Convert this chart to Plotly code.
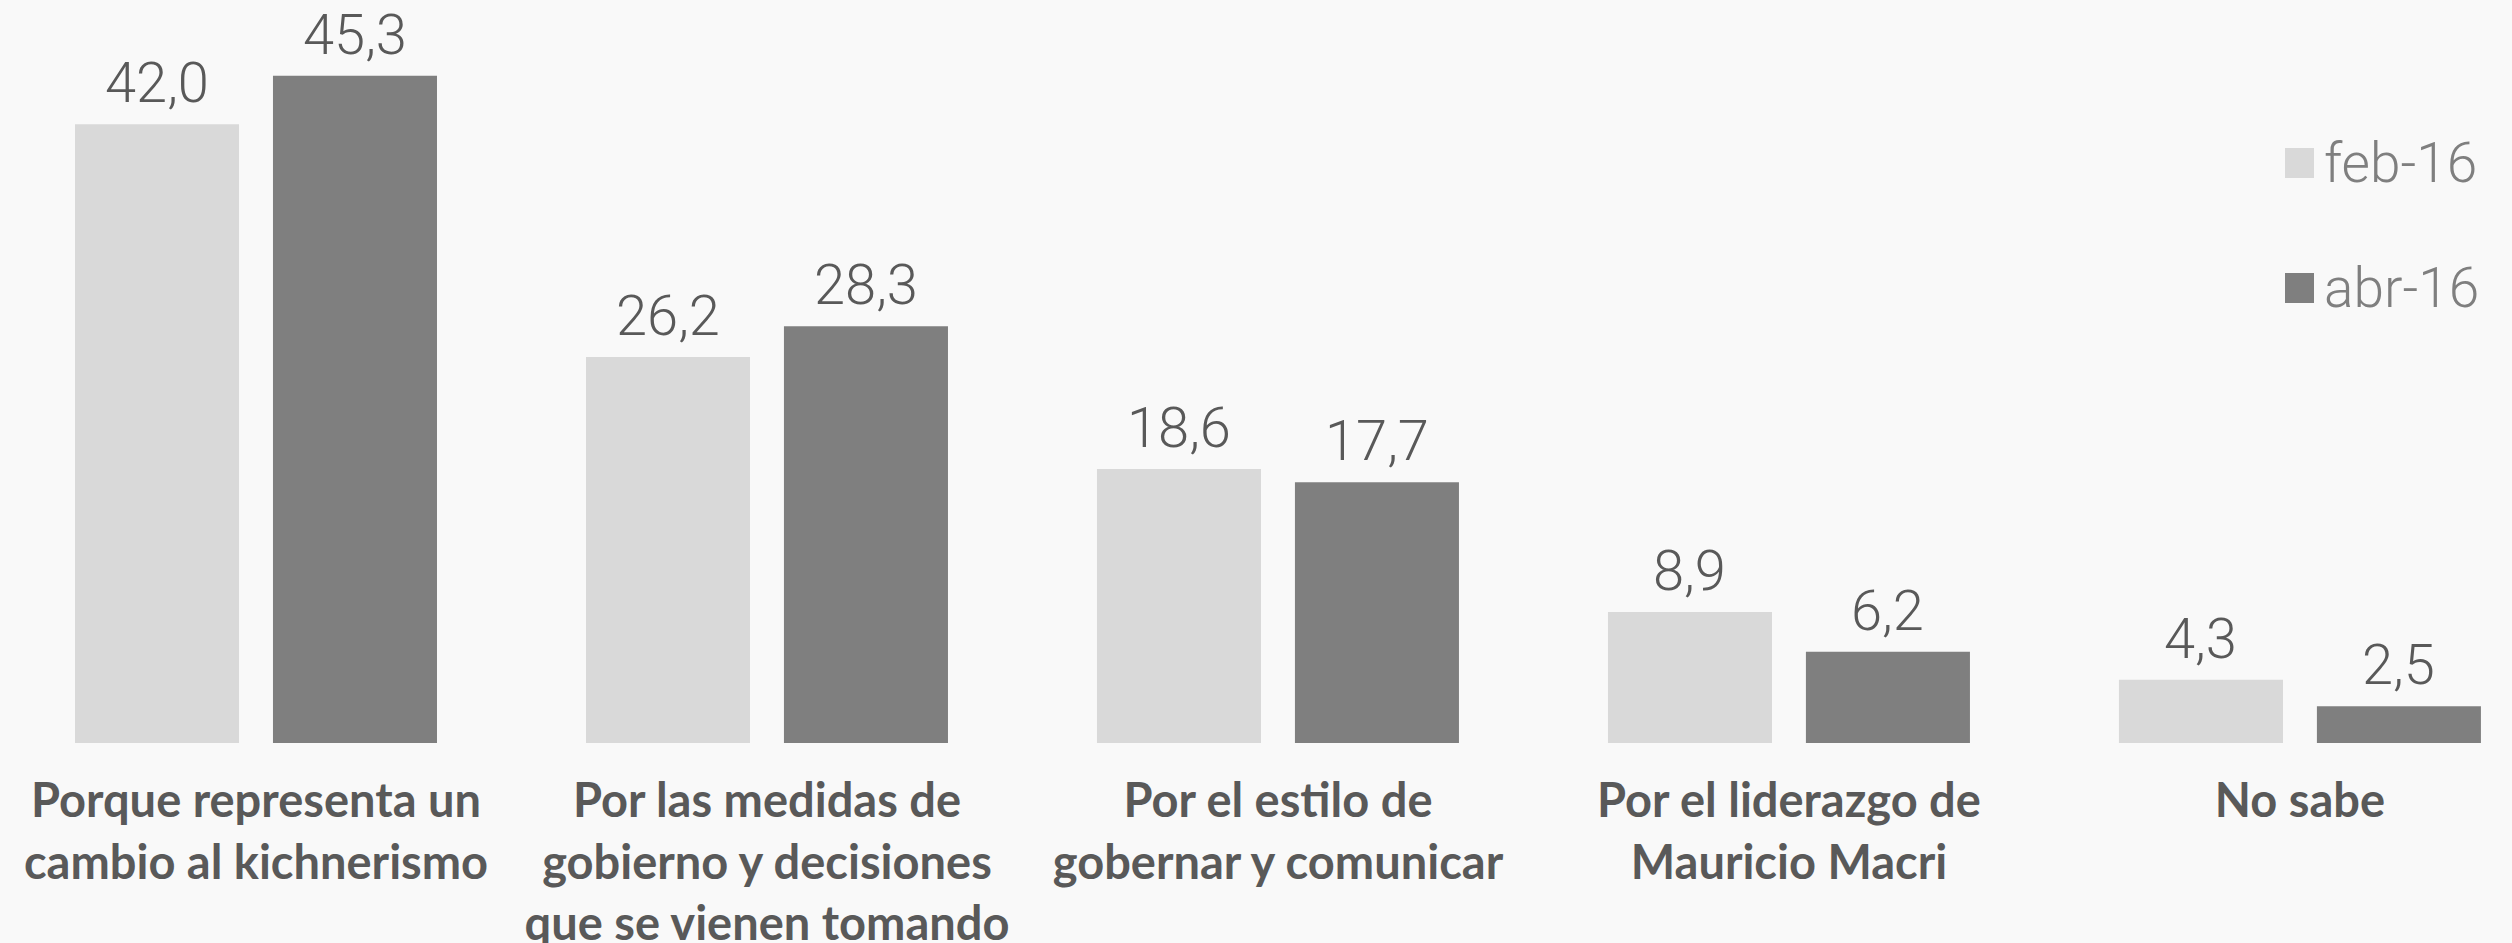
import plotly.graph_objects as go

# Motivos de apoyo (%)
categorias = [
    "Porque representa un<br>cambio al kichnerismo",
    "Por las medidas de<br>gobierno y decisiones<br>que se vienen tomando",
    "Por el estilo de<br>gobernar y comunicar",
    "Por el liderazgo de<br>Mauricio Macri",
    "No sabe",
]
feb_16 = [42.0, 26.2, 18.6, 8.9, 4.3]
abr_16 = [45.3, 28.3, 17.7, 6.2, 2.5]
series = [("feb-16", feb_16, "#d9d9d9", -0.1937), ("abr-16", abr_16, "#7f7f7f", 0.1937)]

bg = "#f9f9f9"
label_color = "#595959"
idx = list(range(len(categorias)))

fig = go.Figure()
for name, vals, color, off in series:
    xs = [i + off for i in idx]
    fig.add_trace(go.Bar(
        x=xs,
        y=vals,
        width=0.321,
        name=name,
        marker=dict(color=color, line=dict(width=0)),
        showlegend=False,
    ))
    # etiquetas de valor
    for x, v in zip(xs, vals):
        fig.add_annotation(
            x=x, y=v, text=f"{v:.1f}".replace(".", ","),
            xanchor="center", yanchor="bottom", yshift=6,
            showarrow=False,
            font=dict(family="Roboto", size=56, color=label_color, weight=300),
        )

# leyenda manual (cuadros grandes como en el original)
legend_y = [1 - 163 / 743, 1 - 288 / 743]
for (name, vals, color, off), ly in zip(series, legend_y):
    fig.add_shape(
        type="rect", xref="paper", yref="paper",
        x0=2285 / 2512, x1=2314 / 2512,
        y0=ly - 15 / 743, y1=ly + 15 / 743,
        fillcolor=color, line=dict(width=0),
    )
    fig.add_annotation(
        text=name, xref="paper", yref="paper",
        x=2322 / 2512, y=ly, xanchor="left", yanchor="middle",
        showarrow=False,
        font=dict(family="Roboto", size=55, color="#7f7f7f", weight=300),
    )

fig.update_layout(
    width=2512,
    height=943,
    separators=",.",
    plot_bgcolor=bg,
    paper_bgcolor=bg,
    margin=dict(l=0, r=0, t=0, b=200, autoexpand=False),
    xaxis=dict(
        range=[-0.501, 4.415],
        tickmode="array",
        tickvals=idx,
        ticktext=categorias,
        showgrid=False,
        zeroline=False,
        showline=False,
        automargin=False,
        ticks="outside",
        ticklen=17,
        tickcolor="rgba(0,0,0,0)",
        tickfont=dict(family="Lato", size=47, color=label_color, weight="bold"),
    ),
    yaxis=dict(
        range=[0, 50.44],
        visible=False,
    ),
)

fig.write_html(
    "out.html",
    config={"displayModeBar": False},
    post_script="document.body.style.margin='0';document.body.style.overflow='hidden';",
)
